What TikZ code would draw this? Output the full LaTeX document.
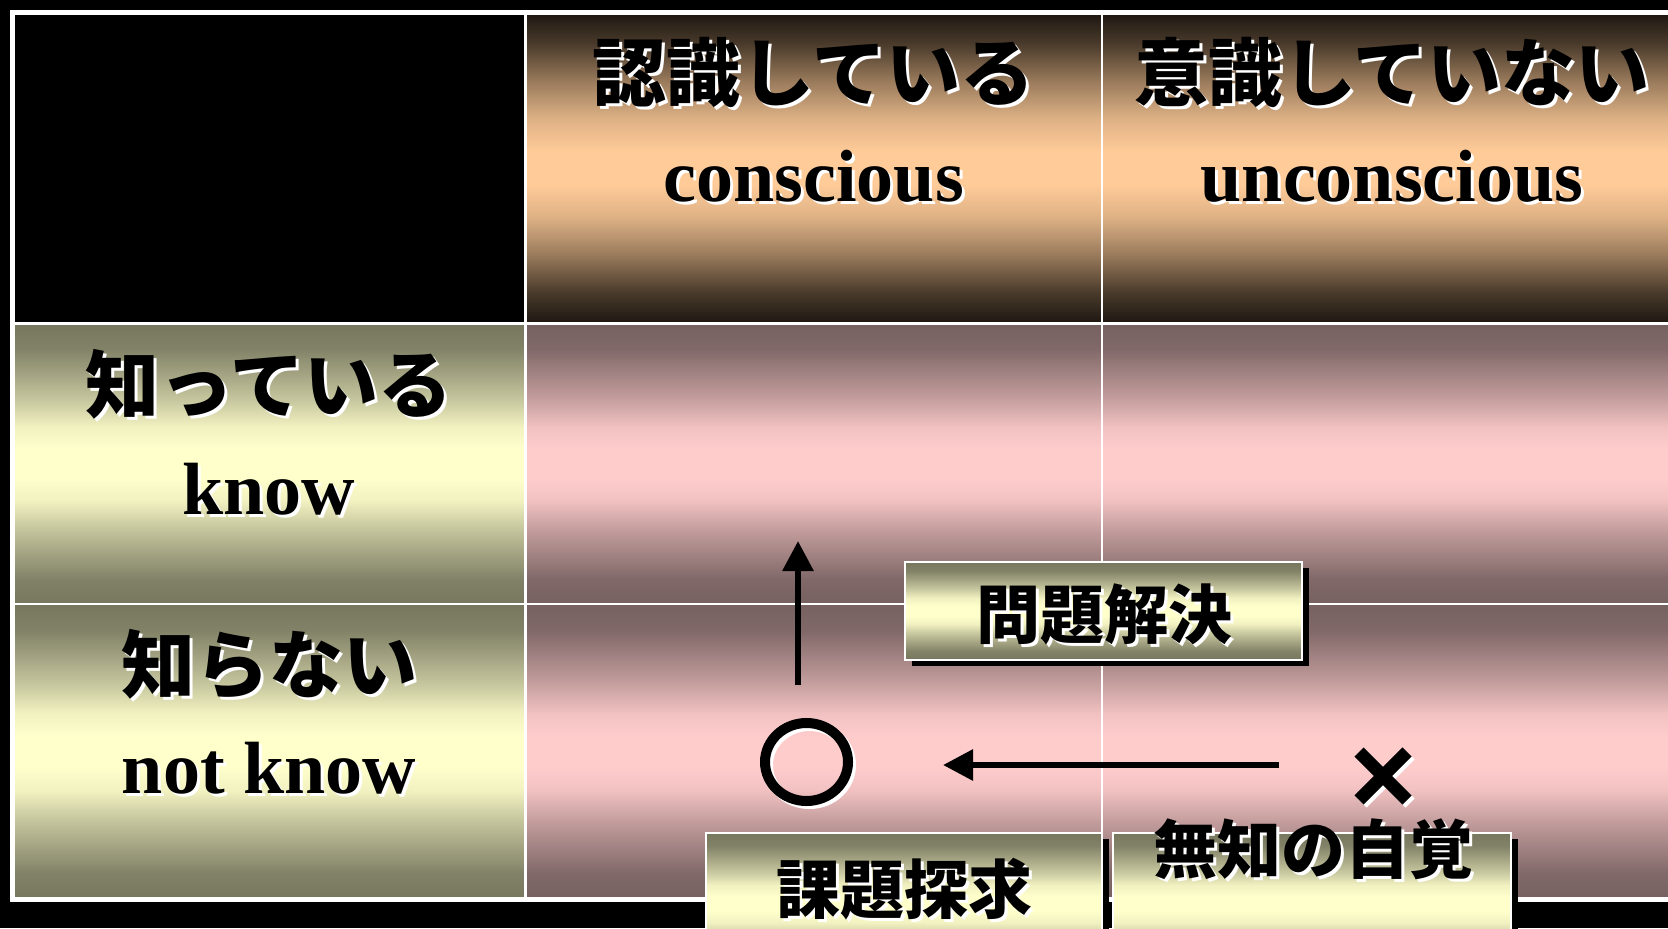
\documentclass[tikz,border=0pt]{standalone}
\usepackage{fontspec}
\setmainfont{Liberation Serif}
\newfontfamily\jpfont{Noto Sans CJK JP}
\usetikzlibrary{arrows.meta,shadows}
\definecolor{hdE}{HTML}{1C1610}
\definecolor{hdL}{HTML}{FFCC99}
\definecolor{olE}{HTML}{77775F}
\definecolor{olL}{HTML}{FFFFCC}
\definecolor{pkE}{HTML}{766060}
\definecolor{pkL}{HTML}{FFCCCC}
\pgfdeclareverticalshading{tubeHD}{100bp}{color(0bp)=(hdE); color(25bp)=(hdE); color(30bp)=(hdL!20!hdE); color(36bp)=(hdL!55!hdE); color(42bp)=(hdL!85!hdE); color(47.5bp)=(hdL); color(52.5bp)=(hdL); color(58bp)=(hdL!85!hdE); color(64bp)=(hdL!55!hdE); color(70bp)=(hdL!20!hdE); color(75bp)=(hdE); color(100bp)=(hdE)}
\pgfdeclareverticalshading{tubeOL}{100bp}{color(0bp)=(olE); color(25bp)=(olE); color(29.5bp)=(olL!8!olE); color(38bp)=(olL!55!olE); color(43.5bp)=(olL!90!olE); color(47.5bp)=(olL); color(52.5bp)=(olL); color(56.5bp)=(olL!90!olE); color(62bp)=(olL!55!olE); color(70.5bp)=(olL!8!olE); color(75bp)=(olE); color(100bp)=(olE)}
\pgfdeclareverticalshading{tubePK}{100bp}{color(0bp)=(pkE); color(25bp)=(pkE); color(29.5bp)=(pkL!8!pkE); color(38bp)=(pkL!55!pkE); color(43.5bp)=(pkL!90!pkE); color(47.5bp)=(pkL); color(52.5bp)=(pkL); color(56.5bp)=(pkL!90!pkE); color(62bp)=(pkL!55!pkE); color(70.5bp)=(pkL!8!pkE); color(75bp)=(pkE); color(100bp)=(pkE)}
\tikzset{
  jp/.style={font=\jpfont\bfseries\fontsize{37}{40}\selectfont, inner sep=0pt},
  jpl/.style={font=\jpfont\bfseries\fontsize{32}{36}\selectfont, inner sep=0pt},
  en/.style={font=\bfseries\fontsize{37}{40}\selectfont, inner sep=0pt, anchor=base},
  grid/.style={draw=white, line width=1.25pt},
  lblbox/.style={shade, shading=tubeOL, draw=white, line width=1.25pt, inner sep=0pt,
     drop shadow={fill=black, opacity=1, shadow xshift=3.5pt, shadow yshift=-3pt}},
  arr/.style={line width=3pt, -{Triangle[length=15pt,width=15pt]}},
}
\newcommand\ShTxt[5]{%
  \node[#4, text=white] (#1s) at (#2+3,#3+3) {#5};
  \node[#4, text=black] (#1) at (#2,#3) {#5};}
\begin{document}
\begin{tikzpicture}[x=0.5pt,y=-0.5pt]
\useasboundingbox (0,0) rectangle (1668,928);
\clip (0,0) rectangle (1668,928);
\fill[black] (0,0) rectangle (1668,928);
% cells
\fill[black] (12.5,12.5) rectangle (525.5,323.5);
\shade[shading=tubeHD] (525.5,12.5) rectangle (1102,323.5);
\shade[shading=tubeHD] (1102,12.5) rectangle (1682,323.5);
\shade[shading=tubeOL] (12.5,323.5) rectangle (525.5,604);
\shade[shading=tubeOL] (12.5,604) rectangle (525.5,899.5);
\shade[shading=tubePK] (525.5,323.5) rectangle (1102,604);
\shade[shading=tubePK] (1102,323.5) rectangle (1682,604);
\shade[shading=tubePK] (525.5,604) rectangle (1102,899.5);
\shade[shading=tubePK] (1102,604) rectangle (1682,899.5);
% grid
\draw[grid] (525.5,12.5) -- (525.5,899.5);
\draw[grid] (1102,12.5) -- (1102,899.5);
\draw[grid] (12.5,323.5) -- (1682,323.5);
\draw[grid] (12.5,604) -- (1682,604);
\draw[draw=white, line width=2.5pt] (12.5,12.5) rectangle (1682,899.5);
% headers
\ShTxt{h1}{813.75}{73}{jp}{認識している}
\ShTxt{h1e}{813.75}{201}{en}{conscious}
\ShTxt{h2}{1392}{73}{jp}{意識していない}
\ShTxt{h2e}{1392}{201}{en}{unconscious}
\ShTxt{r1}{269}{384}{jp}{知っている}
\ShTxt{r1e}{269}{514}{en}{know}
\ShTxt{r2}{269}{665}{jp}{知らない}
\ShTxt{r2e}{269}{793}{en}{not know}
% arrows
\coordinate (upS) at (798,685);
\coordinate (upE) at (798,541);
\draw[arr] (upS) -- (upE);
\coordinate (lfS) at (1279,765);
\coordinate (lfE) at (943,765);
\draw[arr] (lfS) -- (lfE);
% circle mark
\draw[white, line width=5pt] (809.5,765) ellipse [x radius=41.5, y radius=39];
\draw[black, line width=5pt] (806.5,762) ellipse [x radius=41.5, y radius=39];
\coordinate (circ) at (806.5,762);
% cross mark
\begin{scope}[line width=6.5pt, line cap=butt]
\draw[white] (1362,755) -- (1410,803);
\draw[white] (1410,755) -- (1362,803);
\draw[black] (1359,752) -- (1407,800);
\draw[black] (1407,752) -- (1359,800);
\end{scope}
\coordinate (cross) at (1383,776);
% label boxes
\node[lblbox, minimum width=198.5pt, minimum height=49pt] (b1) at (1103.5,611) {};
\ShTxt{b1t}{1104}{614.5}{jpl}{問題解決}
\node[lblbox, minimum width=198pt, minimum height=71pt] (b2) at (904,904) {};
\ShTxt{b2t}{904}{889}{jpl}{課題探求}
\node[lblbox, minimum width=199pt, minimum height=71pt] (b3) at (1312,904) {};
\ShTxt{b3t}{1313}{849}{jpl}{無知の自覚}
\end{tikzpicture}
\end{document}
